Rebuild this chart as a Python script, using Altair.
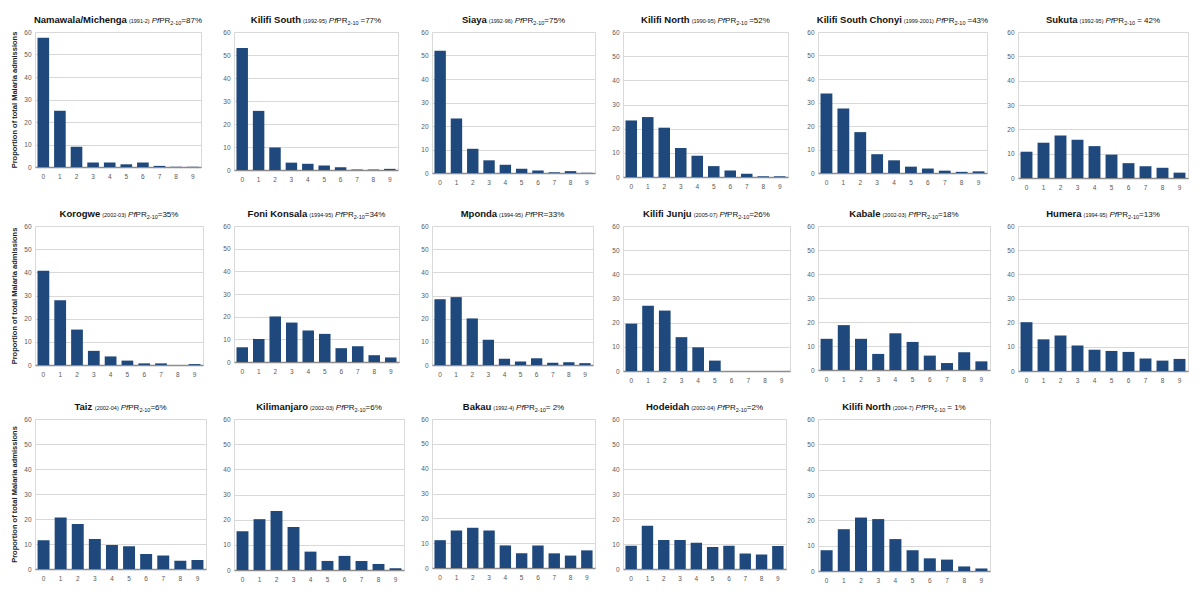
import altair as alt
import pandas as pd

ages = [0, 1, 2, 3, 4, 5, 6, 7, 8, 9]

namawala = [57.5, 25.0, 9.0, 2.0, 2.0, 1.2, 2.0, 0.5, 0.1, 0.1]
kilifi_south = [53.0, 25.7, 9.8, 3.2, 2.7, 2.0, 1.2, 0.2, 0.2, 0.5]
siaya = [52.0, 23.2, 10.3, 5.4, 3.5, 1.8, 1.1, 0.3, 0.8, 0.1]
kilifi_north_90 = [23.4, 24.8, 20.4, 12.0, 8.8, 4.5, 2.7, 1.3, 0.3, 0.3]
chonyi = [33.8, 27.4, 17.4, 8.0, 5.4, 2.7, 1.9, 1.0, 0.5, 0.7]
sukuta = [10.8, 14.5, 17.5, 15.7, 13.1, 9.6, 6.1, 4.8, 4.2, 2.2]
korogwe = [40.7, 27.9, 15.3, 6.1, 3.7, 1.9, 0.7, 0.7, 0.0, 0.4]
foni_konsala = [6.5, 10.2, 20.1, 17.4, 13.9, 12.4, 6.1, 7.0, 3.0, 2.0]
mponda = [28.4, 29.3, 20.1, 10.9, 2.7, 1.5, 2.9, 1.0, 1.2, 0.8]
kilifi_junju = [19.6, 27.0, 25.0, 14.0, 9.8, 4.3, 0.0, 0.0, 0.0, 0.0]
kabale = [13.0, 18.7, 13.0, 6.7, 15.3, 11.7, 6.0, 2.9, 7.4, 3.6]
humera = [20.2, 13.1, 14.7, 10.6, 8.8, 8.3, 7.9, 5.2, 4.3, 5.0]
taiz = [11.5, 20.6, 18.0, 12.0, 9.6, 9.1, 6.0, 5.4, 3.3, 3.6]
kilimanjaro = [15.4, 20.2, 23.4, 17.1, 7.3, 3.6, 5.6, 3.6, 2.4, 0.7]
bakau = [11.2, 15.1, 16.2, 15.1, 9.1, 5.9, 9.1, 5.9, 5.0, 7.1]
hodeidah = [9.3, 17.3, 11.6, 11.6, 10.5, 8.8, 9.3, 6.2, 5.8, 9.2]
kilifi_north_04 = [8.2, 16.5, 21.1, 20.5, 12.6, 8.2, 5.0, 4.5, 1.8, 1.0]

series = [namawala, kilifi_south, siaya, kilifi_north_90, chonyi, sukuta,
          korogwe, foni_konsala, mponda, kilifi_junju, kabale, humera,
          taiz, kilimanjaro, bakau, hodeidah, kilifi_north_04]

names = ["Namawala/Michenga", "Kilifi South", "Siaya", "Kilifi North", "Kilifi South Chonyi", "Sukuta",
         "Korogwe", "Foni Konsala", "Mponda", "Kilifi Junju", "Kabale", "Humera",
         "Taiz", "Kilimanjaro", "Bakau", "Hodeidah", "Kilifi North"]
periods = ["(1991-2)", "(1992-95)", "(1992-96)", "(1990-95)", "(1999-2001)", "(1992-95)",
           "(2002-03)", "(1994-95)", "(1994-95)", "(2005-07)", "(2002-03)", "(1994-95)",
           "(2002-04)", "(2002-03)", "(1992-4)", "(2002-04)", "(2004-7)"]
subs = ["2-10", "2-10", "2-10", "2-10", "2-10", "2-10",
        "2-10", "2-10", "", "2-10", "2-10", "2-10",
        "2-10", "2-10", "2-10", "2-10", "2-10"]
pcts = ["=87%", " =77%", "=75%", " =52%", " =43%", " = 42%",
        "=35%", "=34%", "=33%", "=26%", "=18%", "=13%",
        "=6%", "=6%", "= 2%", "=2%", " = 1%"]
y_title = "Proportion of total Malaria admissions"

# panel plot sizes (layout)
widths = [166, 164, 163, 165, 169, 170,
          168, 165, 161, 167, 172, 170,
          171, 170, 163, 163, 172]
heights = [135, 138, 141, 145, 141, 146,
           139, 136, 139, 145, 144, 145,
           150, 151, 149, 150, 152]

BAR = "#1f497d"
TFONT = "Liberation Sans"

# Arial advance widths (1/1000 em), regular and bold, for centring the composite titles
LOW = "abcdefghijklmnopqrstuvwxyz"
UP = "ABCDEFGHIJKLMNOPQRSTUVWXYZ"
AW = dict(zip(LOW, [556, 556, 500, 556, 556, 278, 556, 556, 222, 222, 500, 222, 833,
                    556, 556, 556, 556, 333, 500, 278, 556, 500, 722, 500, 500, 500]))
AW.update(zip(UP, [667, 667, 722, 722, 667, 611, 778, 722, 278, 500, 667, 556, 833,
                   722, 778, 667, 778, 722, 667, 611, 722, 667, 944, 667, 667, 611]))
AW.update({" ": 278, "(": 333, ")": 333, "-": 333, "/": 278, "=": 584, "%": 889})
BW = dict(zip(LOW, [556, 611, 556, 611, 556, 333, 611, 611, 278, 278, 556, 278, 889,
                    611, 611, 611, 611, 389, 556, 333, 611, 556, 778, 556, 556, 500]))
BW.update(zip(UP, [722, 722, 722, 722, 667, 611, 778, 722, 278, 556, 722, 611, 833,
                   722, 778, 667, 778, 722, 667, 611, 722, 667, 944, 667, 667, 611]))
BW.update({" ": 278, "/": 278})


def tw(s, size, bold=False):
    table = BW if bold else AW
    return sum(table.get(c, 556) for c in s) / 1000.0 * size


def title_layers(i, w):
    # text, size, style, weight, dy, gap after
    pieces = [
        (names[i], 9.5, "normal", "bold", 0, 2.0),
        (periods[i], 5.5, "normal", "normal", 0, 2.0),
        ("Pf", 8, "italic", "normal", 0, 0.0),
        ("PR", 8, "normal", "normal", 0, 0.0),
        (subs[i], 5.5, "normal", "normal", 1.5, 0.0),
        (pcts[i].strip(), 8, "normal", "normal", 0, 0.0),
    ]
    lead = 2.0 if pcts[i].startswith(" ") else 0.0
    total = lead
    for t, fs, st, wt, dy, gap in pieces:
        total += tw(t, fs, wt == "bold") + gap
    x = (w - total) / 2.0
    out = []
    for k, (t, fs, st, wt, dy, gap) in enumerate(pieces):
        if k == 5:
            x += lead
        if t:
            out.append(
                alt.Chart(pd.DataFrame({"t": [t]}))
                .mark_text(align="left", baseline="alphabetic", font=TFONT,
                           fontSize=fs, fontStyle=st, fontWeight=wt,
                           color="#111111", dy=dy)
                .encode(text="t:N", x=alt.value(x), y=alt.value(-9))
            )
        x += tw(t, fs, wt == "bold") + gap
    return out


def panel(i):
    df = pd.DataFrame({"age": ages, "v": series[i]})
    first_col = i in (0, 6, 12)
    yaxis = alt.Axis(values=[0, 10, 20, 30, 40, 50, 60], ticks=False, domain=False,
                     labelFontSize=6.5, labelColor="#595959", labelPadding=4,
                     gridColor="#d9d9d9", title=y_title if first_col else None,
                     titleFontSize=7.5, titleFontWeight="bold", titleColor="#222222",
                     titleFont="Liberation Sans", titlePadding=5)
    bars = alt.Chart(df).mark_bar(color=BAR).encode(
        x=alt.X("age:O", title=None,
                scale=alt.Scale(paddingInner=0.3, paddingOuter=0.15),
                axis=alt.Axis(labelAngle=0, ticks=False, labelFontSize=6.5,
                              labelColor="#595959", labelPadding=6,
                              domainColor="#8c8c8c", domainWidth=1.5)),
        y=alt.Y("v:Q", scale=alt.Scale(domain=[0, 60], nice=False), axis=yaxis),
    )
    return alt.layer(bars, *title_layers(i, widths[i])).properties(
        width=widths[i], height=heights[i])


chart = alt.concat(*[panel(i) for i in range(17)], columns=6,
                   spacing={"row": 48, "column": 28}, bounds="flush").properties(
    padding={"left": 2, "top": 6, "right": 0, "bottom": 0}
).configure_view(stroke="#d9d9d9", strokeWidth=1).configure_axis(
    labelFont="Liberation Sans"
)

chart.save("out.html", embed_options={"renderer": "svg", "actions": False})
